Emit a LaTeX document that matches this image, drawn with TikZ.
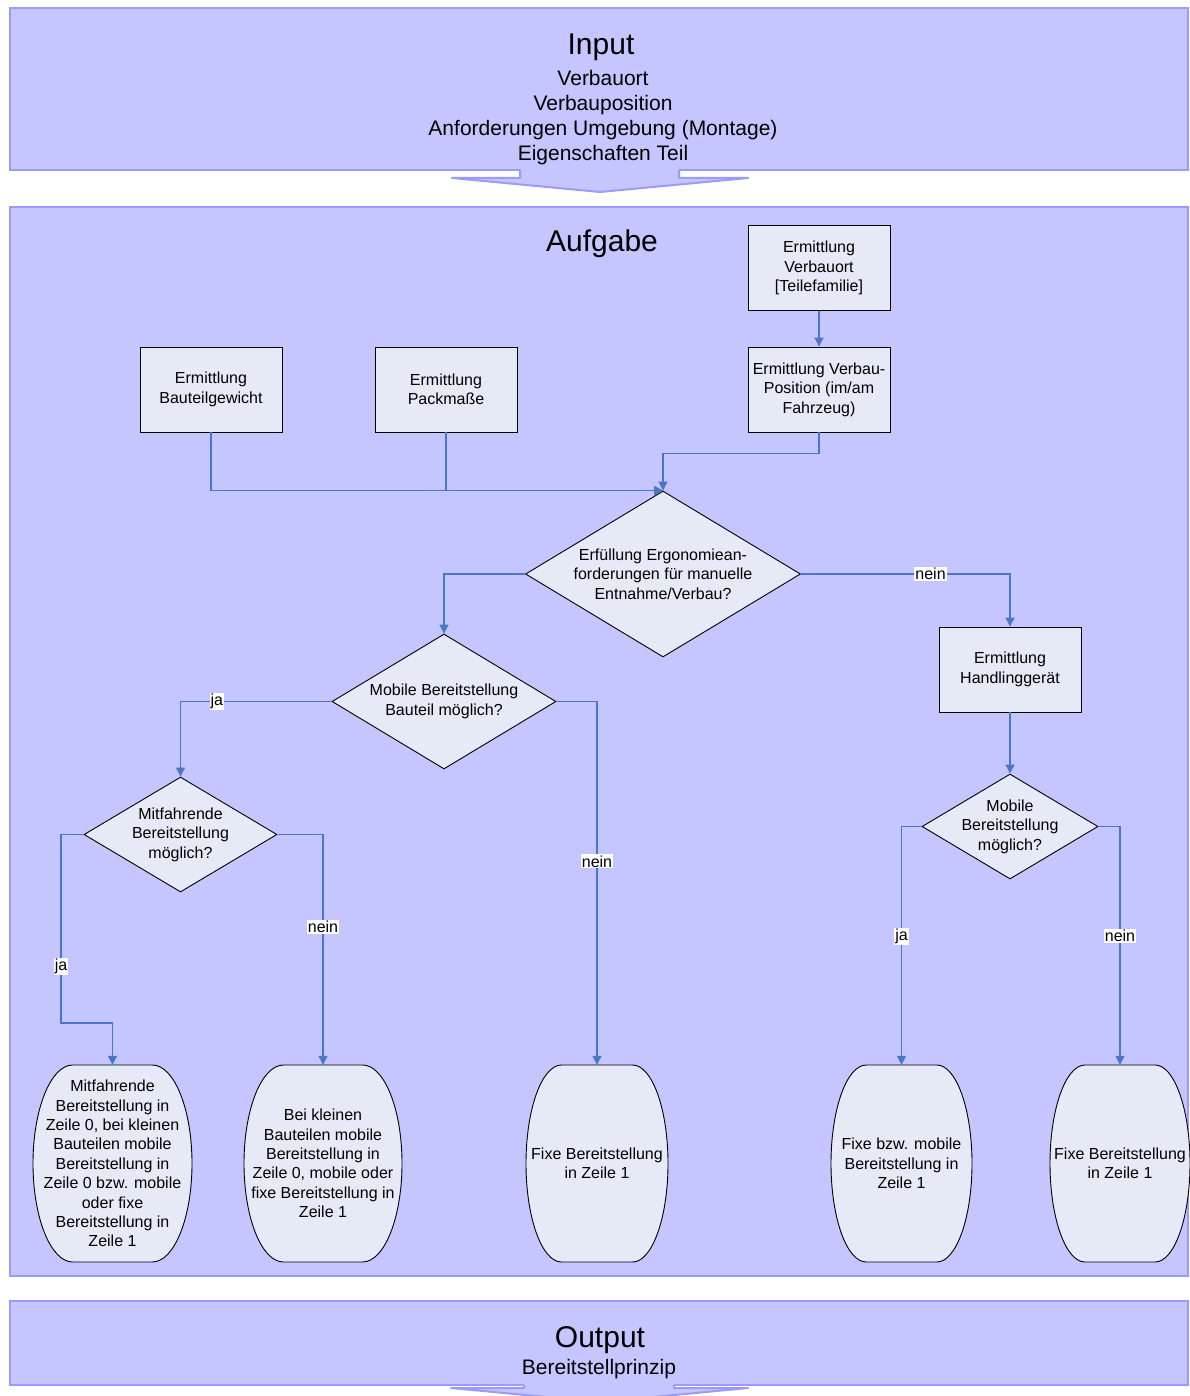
\documentclass[tikz,border=0pt]{standalone}
\usepackage{fontspec}
\setmainfont{Liberation Sans}
\usetikzlibrary{arrows.meta,shapes.geometric}
\definecolor{panelfill}{HTML}{C5C5FF}
\definecolor{paneledge}{HTML}{9A9AFF}
\definecolor{boxfill}{HTML}{E6EAF6}
\definecolor{flowblue}{HTML}{4A76C6}

% barrel-shaped terminal outline: centre x, centre y, width, height
\newcommand\barrel[4]{%
  \draw[termshape]
    ({#1-#3/4},{#2-#4/2}) -- ({#1+#3/4},{#2-#4/2})
    .. controls ({#1+#3/4+0.138*#3},{#2-#4/2}) and ({#1+#3/2},{#2-0.276*#4}) .. ({#1+#3/2},{#2})
    .. controls ({#1+#3/2},{#2+0.276*#4}) and ({#1+#3/4+0.138*#3},{#2+#4/2}) .. ({#1+#3/4},{#2+#4/2})
    -- ({#1-#3/4},{#2+#4/2})
    .. controls ({#1-#3/4-0.138*#3},{#2+#4/2}) and ({#1-#3/2},{#2+0.276*#4}) .. ({#1-#3/2},{#2})
    .. controls ({#1-#3/2},{#2-0.276*#4}) and ({#1-#3/4-0.138*#3},{#2-#4/2}) .. ({#1-#3/4},{#2-#4/2})
    -- cycle;}

\begin{document}
\begin{tikzpicture}[x=1pt,y=-1pt,
  panel/.style={fill=panelfill,draw=paneledge,line width=2pt},
  panelarrow/.style={draw=paneledge,line width=2pt,line join=round},
  title/.style={font=\fontsize{30}{36}\selectfont,inner sep=0pt},
  subtitle/.style={font=\fontsize{21}{25}\selectfont,align=center,inner sep=0pt},
  txt/.style={font=\fontsize{16}{19.4}\selectfont,align=center,inner sep=0pt},
  procbox/.style={txt,draw=black,fill=boxfill,line width=0.9pt,
    minimum width=142pt,minimum height=85pt},
  decision/.style={diamond,draw=black,fill=boxfill,line width=0.9pt,inner sep=0pt},
  termshape/.style={draw=black,fill=boxfill,line width=0.9pt},
  termtext/.style={txt},
  flow/.style={draw=flowblue,line width=1.1pt,-{Triangle[length=9pt,width=9pt]}},
  lbl/.style={txt,fill=white,inner sep=1pt},
]
\useasboundingbox (0,0) rectangle (1189,1396);

% ---- panels ----
\path[panel] (10,8) rectangle (1188,170);
\fill[panelfill] (520,165) -- (520,178) -- (452,178) -- (600,192) -- (748,178) -- (679,178) -- (679,165) -- cycle;
\draw[panelarrow] (520,170) -- (520,178) -- (452,178) -- (600,192) -- (748,178) -- (679,178) -- (679,170);

\path[panel] (10,207) rectangle (1188,1276);

\path[panel] (10,1301) rectangle (1188,1385);
\fill[panelfill] (524,1380) -- (524,1388) -- (451,1388) -- (600,1402) -- (748,1388) -- (674,1388) -- (674,1380) -- cycle;
\draw[panelarrow] (524,1385) -- (524,1388) -- (451,1388) -- (600,1402) -- (748,1388) -- (674,1388) -- (674,1385);

% ---- panel texts ----
\node[title] (intitle) at (601,47) {Input};
\node[subtitle] (inlines) at (603,118) {Verbauort\\Verbauposition\\Anforderungen Umgebung (Montage)\\Eigenschaften Teil};
\node[title] (tasktitle) at (602,244) {Aufgabe};
\node[title] (outtitle) at (600,1340) {Output};
\node[subtitle] (outline) at (599,1369) {Bereitstellprinzip};

% ---- process boxes ----
\node[procbox] (v1) at (819,268) {Ermittlung\\Verbauort\\{[}Teilefamilie{]}};
\node[procbox] (v2) at (819,389.5) {Ermittlung Verbau-\\Position (im/am\\Fahrzeug)};
\node[procbox] (gew) at (211,389.5) {Ermittlung\\Bauteilgewicht};
\node[procbox] (pack) at (446,389.5) {Ermittlung\\Packmaße};
\node[procbox] (hand) at (1010,669.5) {Ermittlung\\Handlinggerät};

% ---- decisions ----
\node[decision,minimum width=275pt,minimum height=166pt] (d1) at (663,574) {};
\node[txt] (d1txt) at (d1) {Erfüllung Ergonomiean-\\forderungen für manuelle\\Entnahme/Verbau?};
\node[decision,minimum width=224pt,minimum height=135pt] (d2) at (444,701.5) {};
\node[txt] (d2txt) at (d2) {Mobile Bereitstellung\\Bauteil möglich?};
\node[decision,minimum width=193pt,minimum height=115pt] (d3) at (180.5,834.5) {};
\node[txt] (d3txt) at (d3) {Mitfahrende\\Bereitstellung\\möglich?};
\node[decision,minimum width=176pt,minimum height=105pt] (d4) at (1010,826.5) {};
\node[txt] (d4txt) at (d4) {Mobile\\Bereitstellung\\möglich?};

% ---- terminals ----
\barrel{112.5}{1163.5}{159}{197}
\node[termtext,minimum width=159pt,minimum height=197pt] (t1) at (112.5,1163.5)
  {Mitfahrende\\Bereitstellung in\\Zeile 0, bei kleinen\\Bauteilen mobile\\Bereitstellung in\\Zeile 0 bzw. mobile\\oder fixe\\Bereitstellung in\\Zeile 1};
\barrel{323}{1163.5}{158}{197}
\node[termtext,minimum width=158pt,minimum height=197pt] (t2) at (323,1163.5)
  {Bei kleinen\\Bauteilen mobile\\Bereitstellung in\\Zeile 0, mobile oder\\fixe Bereitstellung in\\Zeile 1};
\barrel{597}{1163.5}{142}{197}
\node[termtext,minimum width=142pt,minimum height=197pt] (t3) at (597,1163.5)
  {Fixe Bereitstellung\\in Zeile 1};
\barrel{901.5}{1163.5}{141}{197}
\node[termtext,minimum width=141pt,minimum height=197pt] (t4) at (901.5,1163.5)
  {Fixe bzw. mobile\\Bereitstellung in\\Zeile 1};
\barrel{1120}{1163.5}{140}{197}
\node[termtext,minimum width=140pt,minimum height=197pt] (t5) at (1120,1163.5)
  {Fixe Bereitstellung\\in Zeile 1};

\coordinate (jbend) at (61,1023);

% ---- connectors ----
\draw[flow] (v1) -- (v2);
\draw[flow] (v2.south) -- ++(0,21) -| (d1.north);
\draw[flow] (gew.south) |- (d1.north);
\draw[flow] (pack.south) |- (d1.north);
\draw[flow] (d1.west) -| (d2.north);
\draw[flow] (d1.east) -| node[lbl,pos=0.31] {nein} (hand.north);
\draw[flow] (hand) -- (d4);
\draw[flow] (d2.west) -| node[lbl,pos=0.38] {ja} (d3.north);
\draw[flow] (d2.east) -| node[lbl,pos=0.72] {nein} (t3.north);
\draw[flow] (d3.west) -| node[lbl,pos=0.85] {ja} (jbend) -| (t1.north);
\draw[flow] (d3.east) -| node[lbl,pos=0.70] {nein} (t2.north);
\draw[flow] (d4.west) -| node[lbl,pos=0.73] {ja} (t4.north);
\draw[flow] (d4.east) -| node[lbl,pos=0.73] {nein} (t5.north);
\end{tikzpicture}
\end{document}
